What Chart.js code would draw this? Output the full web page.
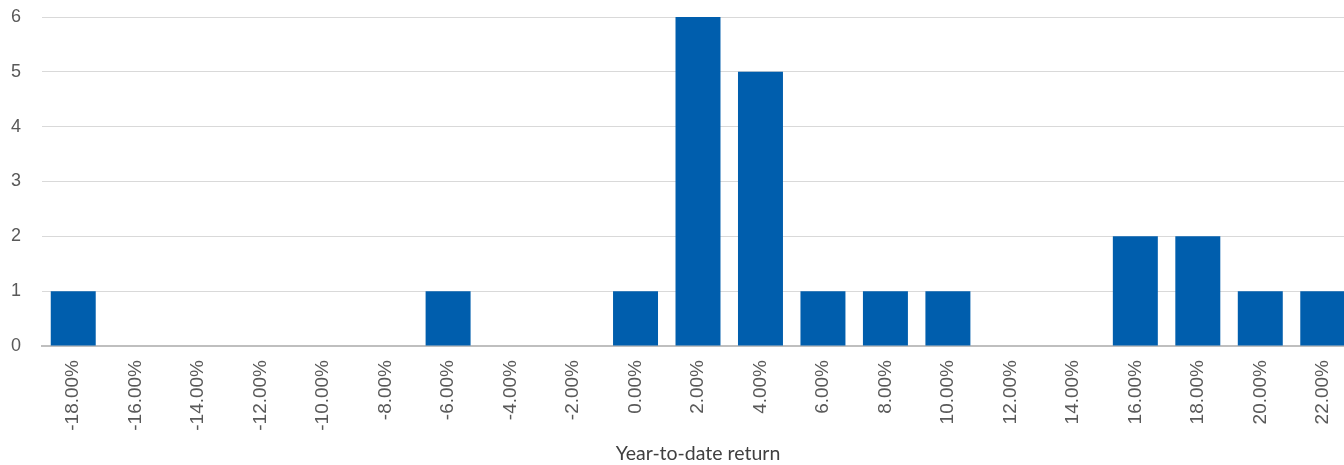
<!DOCTYPE html>
<html>
<head>
<meta charset="utf-8">
<script src="https://cdn.jsdelivr.net/npm/chart.js@4/dist/chart.umd.min.js"></script>
<style>
html,body{margin:0;padding:0;background:#fff;overflow:hidden;}
#wrap{width:1344px;height:465px;position:relative;overflow:hidden;}
</style>
</head>
<body>
<div id="wrap"><canvas id="c" width="1354" height="465"></canvas></div>
<script>
const categories = ["-18.00%","-16.00%","-14.00%","-12.00%","-10.00%","-8.00%","-6.00%","-4.00%","-2.00%","0.00%","2.00%","4.00%","6.00%","8.00%","10.00%","12.00%","14.00%","16.00%","18.00%","20.00%","22.00%"];
const counts = [1,0,0,0,0,0,1,0,0,1,6,5,1,1,1,0,0,2,2,1,1];
const yTicks = [0,1,2,3,4,5,6];
const xTitle = "Year-to-date return";

new Chart(document.getElementById('c'), {
  type: 'bar',
  data: {
    labels: categories,
    datasets: [{
      data: counts,
      backgroundColor: '#005EAD',
      borderWidth: 0,
      categoryPercentage: 1,
      barPercentage: 0.72
    }]
  },
  options: {
    responsive: false,
    animation: false,
    devicePixelRatio: 1,
    layout: { padding: { top: 17, right: 0, left: 0, bottom: 0 } },
    plugins: { legend: { display: false }, tooltip: { enabled: false } },
    scales: {
      x: {
        grid: { display: false, drawTicks: false },
        border: { display: true, color: '#BFBFBF', width: 2 },
        ticks: {
          color: '#595959',
          font: { family: 'Liberation Sans, Arial, sans-serif', size: 19 },
          minRotation: 90, maxRotation: 90,
          padding: 14,
          autoSkip: false
        },
        title: {
          display: true,
          text: xTitle,
          color: '#404040',
          font: { family: 'Lato, sans-serif', size: 19.5 },
          padding: { top: 0, bottom: 0 }
        },
        afterFit: s => { s.height = 119; s.paddingLeft = 0; s.paddingRight = 0; }
      },
      y: {
        min: 0, max: 6,
        afterBuildTicks: s => { s.ticks = yTicks.map(v => ({ value: v })); },
        grid: { color: '#D9D9D9', lineWidth: 1, drawTicks: false },
        border: { display: false },
        ticks: {
          color: '#595959',
          font: { family: 'Liberation Sans, Arial, sans-serif', size: 18 },
          padding: 21
        },
        afterFit: s => { s.width = 42; s.paddingTop = 0; s.paddingBottom = 0; }
      }
    }
  }
});
</script>
</body>
</html>
